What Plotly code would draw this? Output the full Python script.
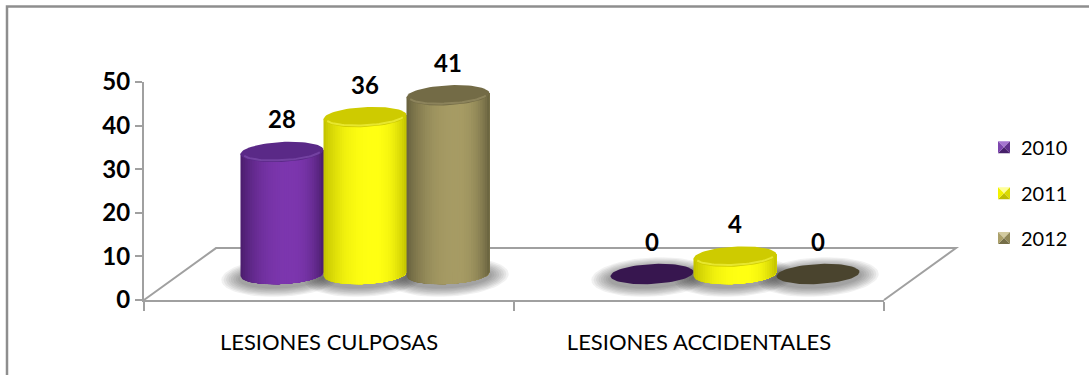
import numpy as np
import plotly.graph_objects as go

# ---- data ----
categories = ["LESIONES CULPOSAS", "LESIONES ACCIDENTALES"]
years = ["2010", "2011", "2012"]
values_2010 = [28, 0]
values_2011 = [36, 4]
values_2012 = [41, 0]
y_ticks = [0, 10, 20, 30, 40, 50]

series_values = [values_2010, values_2011, values_2012]

# colours per series: body edge / highlight, top face, flat face (empty value), rim, legend bevel
palette = [
    dict(edge="#4a1d6c", light="#7c36ae", top="#5a2987", flat="#37164f", rim="#7a48a8",
         icon=("#a575d0", "#7d46ae", "#60308c", "#46206a")),
    dict(edge="#c2c200", light="#ffff12", top="#cecb00", flat="#cecb00", rim="#eeee3a",
         icon=("#ffff99", "#f2f200", "#dada00", "#bdbd00")),
    dict(edge="#67613e", light="#a69b64", top="#736b46", flat="#4a442e", rim="#938a61",
         icon=("#d2ca9f", "#aba06a", "#908757", "#756e48")),
]

FONT = "Lato"
AXIS_GRAY = "#a0a0a0"

# ---- figure geometry (pixels) ----
W, H = 1089, 375
ML, MR, MT, MB = 144, 205, 81.7, 75
PW = W - ML - MR
PH = H - MT - MB
X_RANGE = [0, 2]
Y_RANGE = [0, 50]
PX_PER_X = PW / (X_RANGE[1] - X_RANGE[0])
PX_PER_Y = PH / (Y_RANGE[1] - Y_RANGE[0])

FLOOR_DX_PX, FLOOR_DY_PX = 72, 52     # depth of the floor
BAR_STEP_PX = 83                        # distance between cylinders of a group
BAR_A_PX, BAR_B_PX = 41.5, 10           # cylinder ellipse semi-axes
TILT = 0.05                             # slight perspective tilt of the ellipses
N_STRIPS = 36


def dx(px):
    return px / PX_PER_X


def dy(px):
    return px / PX_PER_Y


def to_paper(x, y):
    return ((x - X_RANGE[0]) / (X_RANGE[1] - X_RANGE[0]),
            (y - Y_RANGE[0]) / (Y_RANGE[1] - Y_RANGE[0]))


def px_to_paper(px, py):
    return (px - ML) / PW, (H - MB - py) / PH


def hex_rgb(h):
    h = h.lstrip("#")
    return np.array([int(h[i:i + 2], 16) for i in (0, 2, 4)], dtype=float)


def mix(c1, c2, f):
    c = hex_rgb(c1) + (hex_rgb(c2) - hex_rgb(c1)) * f
    return "rgb(%d,%d,%d)" % tuple(np.clip(c, 0, 255).round())


def shade(t, edge, light, peak=0.2):
    u = (t - peak) / (1 + peak) if t < peak else (t - peak) / (1 - peak)
    f = max(0.0, 1 - abs(u) ** 2.4)
    return mix(edge, light, f)


def ellipse(xc, yc, a, b, t0=0.0, t1=2 * np.pi, n=72):
    th = np.linspace(t0, t1, n)
    ex = a * np.cos(th)
    ey = b * np.sin(th) + TILT * ex
    return xc + dx(ex), yc + dy(ey)


base_y = dy(FLOOR_DY_PX / 2)
base_dx = dx(FLOOR_DX_PX / 2)

fig = go.Figure()


def poly(xs, ys, color):
    fig.add_trace(go.Scatter(
        x=list(xs), y=list(ys), mode="lines", fill="toself",
        fillcolor=color, line=dict(width=0, color=color),
        hoverinfo="skip", showlegend=False))


def body(xc, top_y, t0, color):
    # cylinder side from t0 to the right-hand edge; later strips paint over it
    sub = np.linspace(t0, 1, max(3, int((1 - t0) * 24)))
    xa = BAR_A_PX * sub
    xs = list(xc + dx(xa)) + list(xc + dx(xa[::-1]))
    ys = list(top_y + dy(TILT * xa)) + list(
        base_y + dy(-BAR_B_PX * np.sqrt(np.clip(1 - sub[::-1] ** 2, 0, 1)) + TILT * xa[::-1]))
    poly(xs, ys, color)


bars = []
for g in range(len(categories)):
    for s, vals in enumerate(series_values):
        xc = g + 0.5 + base_dx + (s - 1) * dx(BAR_STEP_PX)
        bars.append((xc, vals[g], s))

# soft shadows on the floor
for xc, v, s in bars:
    for k in range(8, 0, -1):
        ex, ey = ellipse(xc, base_y - dy(3), BAR_A_PX + 2.4 * k, BAR_B_PX + 1.2 * k)
        poly(ex, ey, "rgba(50,50,50,0.065)")

# flat (empty) discs first, then the cylinders from left to right
order = [b for b in bars if b[1] == 0] + [b for b in bars if b[1] != 0]
for xc, v, s in order:
    pal = palette[s]
    if v > 0:
        top_y = base_y + v
        ts = np.linspace(-1, 1, N_STRIPS + 1)
        for t0, t1 in zip(ts[:-1], ts[1:]):
            body(xc, top_y, t0, shade((t0 + t1) / 2, pal["edge"], pal["light"]))
        ex, ey = ellipse(xc, top_y, BAR_A_PX, BAR_B_PX)
        poly(ex, ey, pal["top"])
        rx, ry = ellipse(xc, top_y, BAR_A_PX - 2.5, BAR_B_PX - 1.8, np.pi * 1.08, np.pi * 1.92, 40)
        fig.add_trace(go.Scatter(x=rx, y=ry, mode="lines",
                                 line=dict(color=pal["rim"], width=2),
                                 opacity=0.8, hoverinfo="skip", showlegend=False))
    else:
        ex, ey = ellipse(xc, base_y, BAR_A_PX, BAR_B_PX)
        poly(ex, ey, pal["flat"])

# value labels
annotations = []
for xc, v, s in bars:
    annotations.append(dict(
        x=xc, y=base_y + v, xref="x", yref="y", text=str(v), showarrow=False,
        yshift=33, xanchor="center", yanchor="middle",
        font=dict(family=FONT, size=24, color="black", weight="bold")))

shapes = []
# floor outline (back edge and the two sides)
fl = [(0, 0), (dx(FLOOR_DX_PX), dy(FLOOR_DY_PX)),
      (2 + dx(FLOOR_DX_PX), dy(FLOOR_DY_PX)), (2, 0)]
pts = [to_paper(*p) for p in fl]
path = "M %f %f L %f %f L %f %f L %f %f" % (pts[0] + pts[1] + pts[2] + pts[3])
shapes.append(dict(type="path", xref="paper", yref="paper", path=path,
                   line=dict(color=AXIS_GRAY, width=2), layer="below"))

# outer chart frame
a = px_to_paper(7, H + 5)
b = px_to_paper(7, 6)
c = px_to_paper(W + 5, 6)
shapes.append(dict(type="path", xref="paper", yref="paper",
                   path="M %f %f L %f %f L %f %f" % (a + b + c),
                   line=dict(color="#8e8e8e", width=2.5)))

# legend with bevelled swatches
legend_y = [147, 193, 238]
for s, (yr, ly) in enumerate(zip(years, legend_y)):
    cx, cy, hs = 1004, ly, 6
    tl = px_to_paper(cx - hs, cy - hs)
    tr = px_to_paper(cx + hs, cy - hs)
    br = px_to_paper(cx + hs, cy + hs)
    bl = px_to_paper(cx - hs, cy + hs)
    cc = px_to_paper(cx, cy)
    top_c, left_c, right_c, bot_c = palette[s]["icon"]
    for p1, p2, col in [(tl, tr, top_c), (tr, br, right_c), (br, bl, bot_c), (bl, tl, left_c)]:
        shapes.append(dict(type="path", xref="paper", yref="paper",
                           path="M %f %f L %f %f L %f %f Z" % (p1 + p2 + cc),
                           fillcolor=col, line=dict(width=0)))
    tx, ty = px_to_paper(1019, cy)
    annotations.append(dict(x=tx, y=ty, xref="paper", yref="paper", text=yr,
                            showarrow=False, xanchor="left", yanchor="middle",
                            font=dict(family=FONT, size=20, color="black")))

fig.update_layout(
    width=W, height=H, autosize=False,
    margin=dict(l=ML, r=MR, t=MT, b=MB, pad=0),
    paper_bgcolor="white", plot_bgcolor="rgba(0,0,0,0)",
    showlegend=False,
    shapes=shapes, annotations=annotations,
    xaxis=dict(range=X_RANGE, showgrid=False, zeroline=False,
               showline=True, linecolor=AXIS_GRAY, linewidth=2,
               tickmode="array", tickvals=[0.5, 1.5], ticktext=categories,
               ticks="", ticklabelstandoff=22,
               tickfont=dict(family=FONT, size=22, color="black"),
               minor=dict(tickmode="array", tickvals=[0, 1, 2], ticks="outside",
                          ticklen=9, tickwidth=2, tickcolor=AXIS_GRAY),
               fixedrange=True),
    yaxis=dict(range=Y_RANGE, showgrid=False, zeroline=False,
               showline=True, linecolor=AXIS_GRAY, linewidth=2,
               tickmode="array", tickvals=y_ticks, ticks="outside",
               ticklen=7, tickwidth=2, tickcolor=AXIS_GRAY,
               tickfont=dict(family=FONT, size=24, color="black", weight="bold"),
               fixedrange=True),
)

fig.write_html("out.html", config={"displayModeBar": False})
